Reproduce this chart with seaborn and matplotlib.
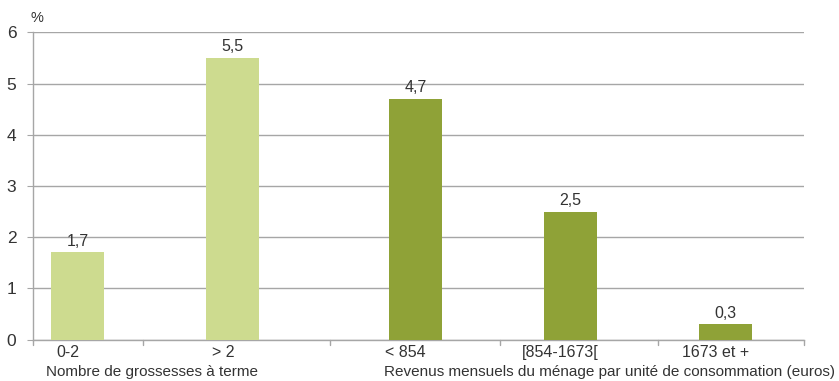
import matplotlib
matplotlib.use("Agg")
from matplotlib import pyplot as plt
from matplotlib import transforms
import pandas as pd
import seaborn as sns

# Data
categories = ["0-2", "> 2", "< 854", "[854-1673[", "1673 et +"]
values = [1.7, 5.5, 4.7, 2.5, 0.3]
groups = ["grossesses", "grossesses", "revenus", "revenus", "revenus"]
value_labels = ["1,7", "5,5", "4,7", "2,5", "0,3"]
group_titles = ["Nombre de grossesses à terme",
                "Revenus mensuels du ménage par unité de consommation (euros)"]

# slot positions (small extra gap between the two groups)
positions = [0, 1, 2.18, 3.18, 4.18]
separators = [0.423, 1.63, 2.726, 3.745]

sns.set_style("white")
plt.rcParams['font.family'] = ['Liberation Sans', 'DejaVu Sans']
text_color = "#333333"
grid_color = "#a6a6a6"
fs = 11.5

df = pd.DataFrame({"pos": positions, "val": values, "grp": groups})

fig = plt.figure(figsize=(8.39, 3.81), dpi=100)
ax = fig.add_axes([33 / 839, 1 - 339.5 / 381, (804 - 33) / 839, (339.5 - 32.3) / 381])

sns.barplot(data=df, x="pos", y="val", hue="grp", native_scale=True,
            palette={"grossesses": "#cddb8f", "revenus": "#8fa237"},
            saturation=1, dodge=False, width=0.342, legend=False, ax=ax,
            zorder=3, linewidth=0, errorbar=None)

ax.set_xlim(-0.287, 4.687)
ax.set_ylim(0, 6)
ax.set_yticks(range(0, 7))
ax.grid(axis="y", color=grid_color, linewidth=1, zorder=0)
ax.set_axisbelow(True)

for s in ["top", "right"]:
    ax.spines[s].set_visible(False)
for s in ["left", "bottom"]:
    ax.spines[s].set_color(grid_color)
    ax.spines[s].set_linewidth(1)

ax.tick_params(axis="y", length=4, color=grid_color, labelsize=12.5,
               labelcolor=text_color, pad=8, left=True)
ax.set_ylabel("")
ax.set_xlabel("")

# category labels under bars (shifted slightly left like the original)
ax.set_xticks([])
offset = transforms.ScaledTranslation(-7 / 72, 0, fig.dpi_scale_trans)
blend = transforms.blended_transform_factory(ax.transData, ax.transAxes)
for p, c in zip(positions, categories):
    ax.text(p, -0.042, c, transform=blend + offset,
            ha="center", va="center", fontsize=fs, color=text_color)

# separator tick marks on x axis
for sx in [-0.287] + separators + [4.687]:
    ax.plot([sx, sx], [0, -0.1], color=grid_color, linewidth=1, clip_on=False, zorder=4)

# value labels
for p, v, t in zip(positions, values, value_labels):
    ax.text(p, v + 0.07, t, ha="center", va="bottom", fontsize=fs, color=text_color)

# group titles
fig.text(152 / 839, 1 - 372 / 381, group_titles[0], ha="center", va="center",
         fontsize=11, color=text_color)
fig.text(609 / 839, 1 - 372 / 381, group_titles[1], ha="center", va="center",
         fontsize=11, color=text_color)

fig.text(37 / 839, 1 - 18 / 381, "%", ha="center", va="center",
         fontsize=10.5, color=text_color)

fig.savefig("out.png", dpi=100)
